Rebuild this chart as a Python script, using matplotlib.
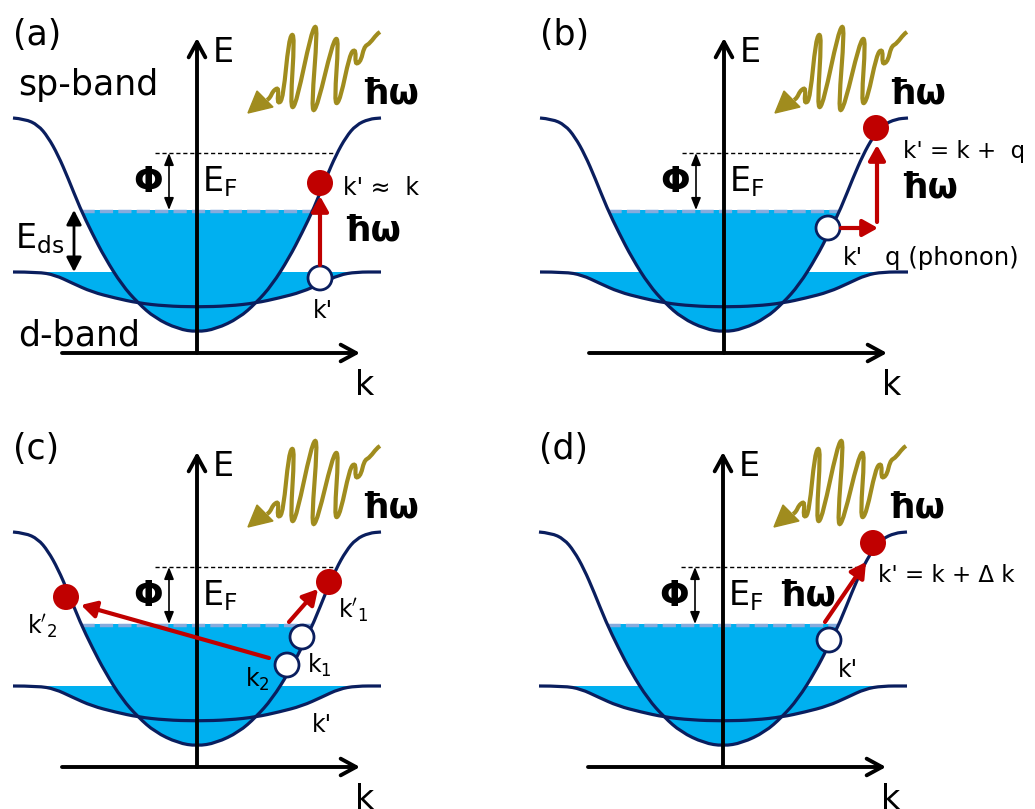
import matplotlib
matplotlib.use('Agg')
import matplotlib.pyplot as plt
from matplotlib.path import Path
from matplotlib.patches import PathPatch, Circle, Polygon, FancyArrowPatch, Rectangle

W, H = 1035, 809

# band shapes (left half), pixels measured from the origin of each E-k frame
sp_k = [-184, -172, -159, -149, -139, -129, -117, -105, -92, -75, -59, -42, -19, 0]
sp_E = [235, 234, 228, 216, 198, 175, 145, 120, 95, 68, 50, 35, 24, 21]
d_k = [-184, -159, -142, -125, -105, -82, -59, -32, 0]
d_E = [81, 81, 78, 70, 61, 55, 50, 47, 46]
E_fermi = 143
E_vac = 200

# photon wiggle: turning points, and its arrow head
wave_k = [70, 79, 83, 95, 96, 118, 117, 139, 140, 156, 161, 170, 183]
wave_E = [253, 264, 251, 318, 246, 326, 243, 314, 250, 302, 290, 308, 321]
head_k = [51, 60, 76]
head_E = [240, 262, 246]

panels = ['(a)', '(b)', '(c)', '(d)']
origin_x = [197, 724, 197, 723]
origin_y = [353, 353, 767, 767]

electrons = {'(a)': [(123, 170)], '(b)': [(152, 225)],
             '(c)': [(132, 185), (-131, 170)], '(d)': [(150, 224)]}
holes = {'(a)': [(123, 75)], '(b)': [(104, 125)],
         '(c)': [(105, 130), (90, 102)], '(d)': [(106, 127)]}
jumps = {'(a)': [((123, 88), (123, 157))],
         '(b)': [((117, 125), (154, 125)), ((153, 131), (153, 208))],
         '(c)': [((92, 145), (121, 178)), ((72, 109), (-116, 162))],
         '(d)': [((102, 145), (143, 205))]}

# (k, E, text, size, bold)
notes = {
    '(a)': [(-179, 258, 'sp-band', 25, False), (-179, 8, 'd-band', 25, False),
            (-182, 105, r'E$_{\rm ds}$', 24, False), (146, 113, 'ħω', 25, True),
            (146, 158, "k' ≈  k", 17, False), (116, 35, "k'", 17, False)],
    '(b)': [(179, 195, "k' = k +  q", 16.5, False), (176, 156, 'ħω', 25, True),
            (119, 88, "k'", 17, False), (161, 88, 'q (phonon)', 17.5, False)],
    '(c)': [(-170, 134, r"$\mathrm{k}'_{2}$", 17, False),
            (141, 149, r"$\mathrm{k}'_{1}$", 17, False),
            (110, 94, r'$\mathrm{k}_{1}$', 17, False),
            (48, 80, r'$\mathrm{k}_{2}$', 17, False), (115, 35, "k'", 17, False)],
    '(d)': [(155, 185, "k' = k + Δ k", 16.5, False), (55, 162, 'ħω', 25, True),
            (115, 90, "k'", 17, False)],
}

FILL = '#00B0F0'
NAVY = '#0A1E5E'
RED = '#C00000'
OLIVE = '#A08C1E'


def smooth(ks, Es):
    verts = [(ks[0], Es[0])]
    codes = [Path.MOVETO]
    for i in range(1, len(ks) - 1):
        verts += [(ks[i], Es[i]), ((ks[i] + ks[i + 1]) / 2, (Es[i] + Es[i + 1]) / 2)]
        codes += [Path.CURVE3, Path.CURVE3]
    verts.append((ks[-1], Es[-1]))
    codes.append(Path.LINETO)
    return verts, codes


def wiggle(ks, Es, arm=6, dk=0.857, dE=0.519):
    # each stroke leaves and enters a turning point along the photon's travel line
    verts = [(ks[0], Es[0])]
    codes = [Path.MOVETO]
    for i in range(len(ks) - 1):
        verts += [(ks[i] + arm * dk, Es[i] + arm * dE),
                  (ks[i + 1] - arm * dk, Es[i + 1] - arm * dE),
                  (ks[i + 1], Es[i + 1])]
        codes += [Path.CURVE4] * 3
    return Path(verts, codes)


sp_full_k = sp_k + [-k for k in sp_k[-2::-1]]
sp_full_E = sp_E + sp_E[-2::-1]
d_full_k = d_k + [-k for k in d_k[-2::-1]]
d_full_E = d_E + d_E[-2::-1]

fig = plt.figure(figsize=(W / 100, H / 100), dpi=100)

for name, x0, y0 in zip(panels, origin_x, origin_y):
    ax = fig.add_axes([0, 0, 1, 1])
    ax.set_xlim(-x0, W - x0)
    ax.set_ylim(y0 - H, y0)
    ax.axis('off')
    ax.patch.set_alpha(0)

    # filled states: sp band below E_F and the d band
    v, c = smooth(sp_full_k, sp_full_E)
    clip = PathPatch(Path(v + [v[0]], c + [Path.CLOSEPOLY]), transform=ax.transData)
    rect = Rectangle((-190, 0), 380, E_fermi, fc=FILL, ec='none', zorder=1)
    ax.add_patch(rect)
    rect.set_clip_path(clip)
    ax.add_patch(PathPatch(Path(v, c), fc='none', ec=NAVY, lw=2.3, zorder=3))

    v, c = smooth(d_full_k, d_full_E)
    ax.add_patch(PathPatch(Path(v + [v[0]], c + [Path.CLOSEPOLY]), fc=FILL, ec='none', zorder=1))
    ax.add_patch(PathPatch(Path(v, c), fc='none', ec=NAVY, lw=2.3, zorder=3))

    ax.plot([-116, 114], [E_fermi - 1] * 2, color='#86ABDD', lw=2.5, dashes=(3.8, 1.5), zorder=2)
    ax.plot([-42, 138], [E_vac] * 2, color='k', lw=1, dashes=(3, 2), zorder=2)

    # E and k axes
    for p0, p1 in [((0, 0), (0, 315)), ((-135, 0), (163, 0))]:
        ax.add_patch(FancyArrowPatch(p0, p1, arrowstyle='->,head_length=0.55,head_width=0.3',
                                     mutation_scale=20, lw=2.8, color='k', shrinkA=0, shrinkB=0,
                                     zorder=4))

    ax.add_patch(FancyArrowPatch((-28, E_fermi), (-28, E_vac),
                                 arrowstyle='<|-|>,head_length=0.6,head_width=0.24',
                                 mutation_scale=12, lw=1.2, color='k', shrinkA=0, shrinkB=0,
                                 zorder=4))
    if name == '(a)':
        ax.add_patch(FancyArrowPatch((-123, d_E[0]), (-123, E_fermi),
                                     arrowstyle='<|-|>,head_length=0.58,head_width=0.3',
                                     mutation_scale=15, lw=2, color='k', shrinkA=0, shrinkB=0,
                                     zorder=4))

    # incoming photon
    ax.add_patch(PathPatch(wiggle(wave_k, wave_E), fc='none', ec=OLIVE, lw=3, zorder=4))
    ax.add_patch(Polygon(list(zip(head_k, head_E)), closed=True, fc=OLIVE, ec=OLIVE, lw=1,
                         zorder=4))

    for p in electrons[name]:
        ax.add_patch(Circle(p, 13, fc=RED, ec='none', zorder=5))
    for p in holes[name]:
        ax.add_patch(Circle(p, 12, fc='white', ec=NAVY, lw=2, zorder=5))
    for p0, p1 in jumps[name]:
        ax.add_patch(FancyArrowPatch(p0, p1, arrowstyle='-|>,head_length=0.5,head_width=0.28',
                                     mutation_scale=18, lw=3, color=RED, shrinkA=0, shrinkB=0,
                                     zorder=6))

    common = [(-184, 308, name, 25, False), (16, 291, 'E', 24, False),
              (158, -42, 'k', 24, False), (5, 162, r'E$_{\rm F}$', 24, False),
              (164, 250, 'ħω', 25, True)]
    for k, e, s, size, bold in common + notes[name]:
        ax.text(k, e, s, fontsize=size, fontweight='bold' if bold else 'normal',
                ha='left', va='baseline', zorder=7)
    ax.text(-49, 171, 'Φ', fontsize=25, fontweight='bold', ha='center', va='center', zorder=7)

fig.savefig('out.png', dpi=100)
